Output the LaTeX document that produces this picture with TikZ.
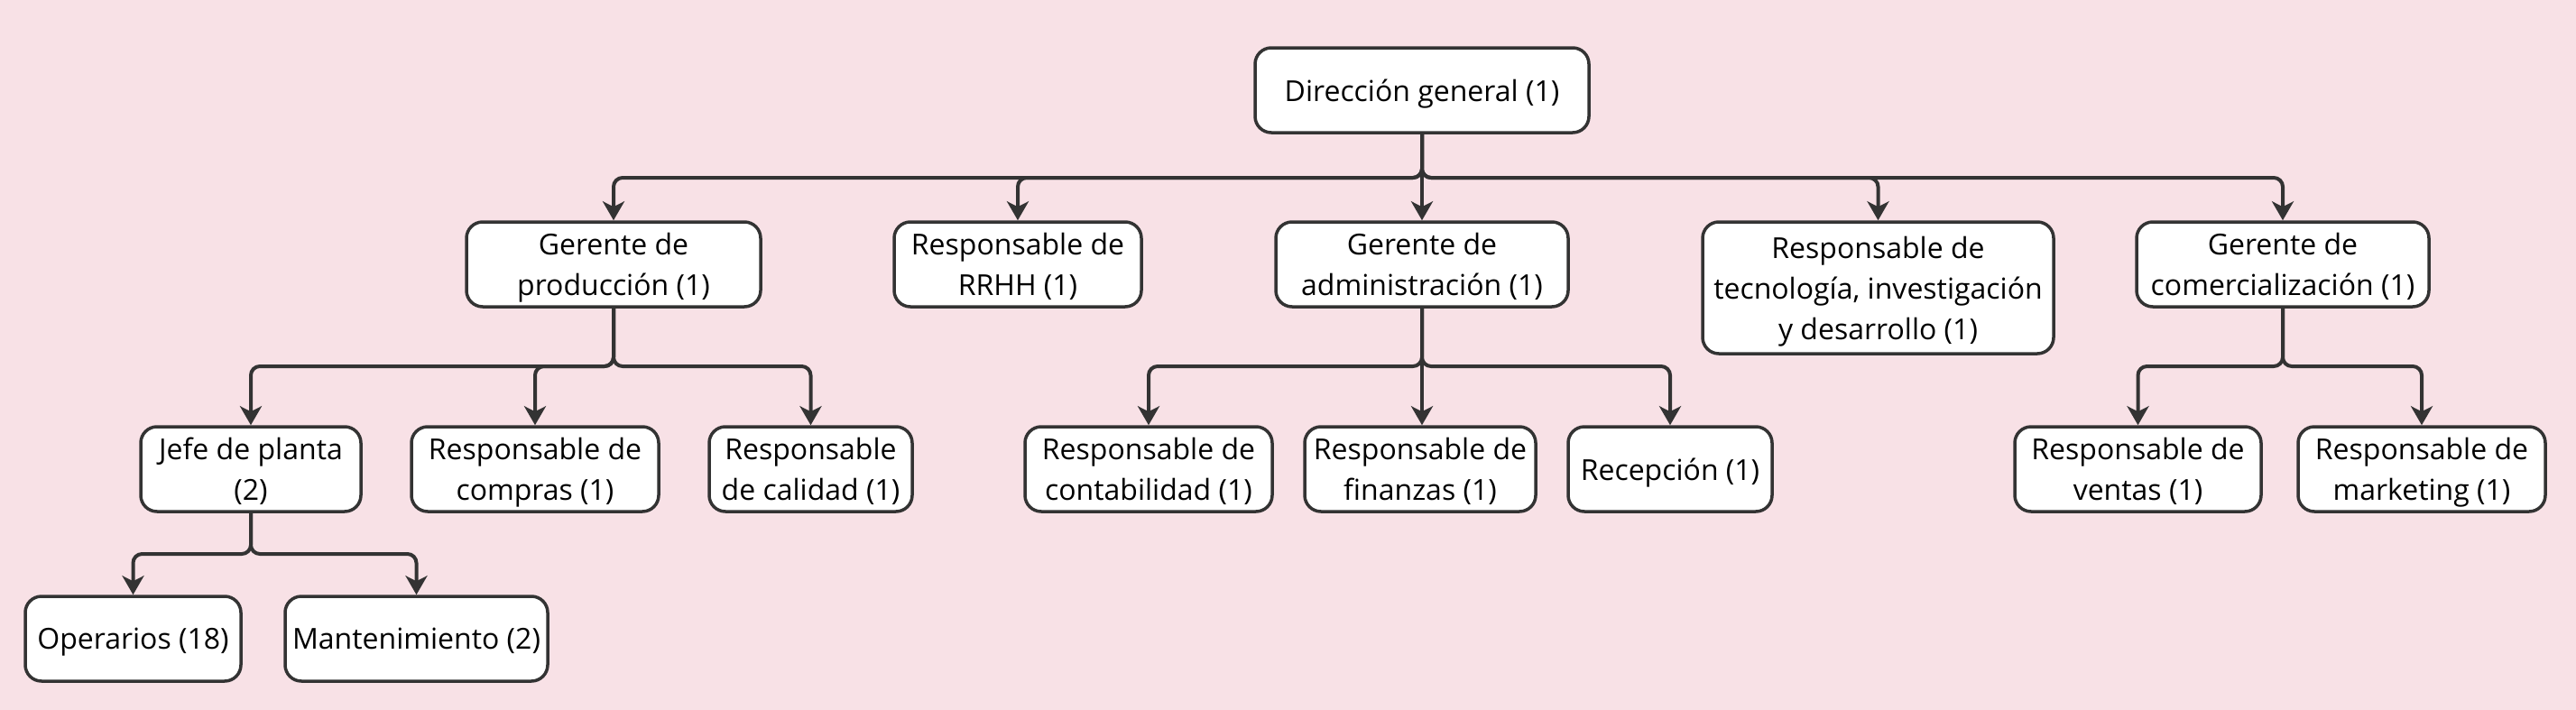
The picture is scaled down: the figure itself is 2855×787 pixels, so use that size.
\documentclass[tikz,border=0pt]{standalone}
\usepackage{fontspec}
\setmainfont{Open Sans}
\usetikzlibrary{arrows.meta}
\definecolor{bgpink}{HTML}{F8E1E6}
\definecolor{linegray}{HTML}{333333}
\tikzset{font=\fontsize{16}{22.5}\selectfont}
\tikzset{box/.style={draw=linegray,fill=white,line width=1.75pt,rounded corners=9pt,
    align=center,inner sep=0pt,minimum height=47pt,text depth=0pt}}
\tikzset{link/.style={draw=linegray,line width=2pt,rounded corners=5pt,
    -{Stealth[length=10.5pt,width=12pt,inset=3pt]}}}
\begin{document}
\begin{tikzpicture}[x=0.5pt,y=-0.5pt]
  \fill[bgpink] (0,0) rectangle (2855,787);
  \useasboundingbox (0,0) rectangle (2855,787);
  % top
  \node[box,minimum width=185pt] (dg) at (1576,100) {Dirección general (1)};
  % first level
  \node[box,minimum width=163pt] (gp) at (680,293) {Gerente de\\producción (1)};
  \node[box,minimum width=137pt] (rh) at (1128,293) {Responsable de\\RRHH (1)};
  \node[box,minimum width=162pt] (ga) at (1576,293) {Gerente de\\administración (1)};
  \node[box,minimum width=194.5pt,minimum height=73pt] (rt) at (2081.5,319)
    {Responsable de\\tecnología, investigación\\y desarrollo (1)};
  \node[box,minimum width=162pt] (gc) at (2530,293) {Gerente de\\comercialización (1)};
  % second level
  \node[box,minimum width=122pt] (jp) at (278,520) {Jefe de planta\\(2)};
  \node[box,minimum width=137pt] (rc) at (593,520) {Responsable de\\compras (1)};
  \node[box,minimum width=112.5pt] (rca) at (898.5,520) {Responsable\\de calidad (1)};
  \node[box,minimum width=137pt] (rco) at (1273,520) {Responsable de\\contabilidad (1)};
  \node[box,minimum width=128pt] (rf) at (1574,520) {Responsable de\\finanzas (1)};
  \node[box,minimum width=113pt] (rec) at (1851,520) {Recepción (1)};
  \node[box,minimum width=136.5pt] (rv) at (2369.5,520) {Responsable de\\ventas (1)};
  \node[box,minimum width=137pt] (rm) at (2684,520) {Responsable de\\marketing (1)};
  % third level
  \node[box,minimum width=119.5pt] (op) at (147.5,708) {Operarios (18)};
  \node[box,minimum width=145.5pt] (mt) at (461.5,708) {Mantenimiento (2)};
  % buses
  \coordinate (b1) at (0,197);
  \coordinate (b2) at (0,406);
  \coordinate (b3) at (0,614);
  \foreach \c in {gp,rh,rt,gc}{
    \draw[link] (dg.south) -- (dg.south |- b1) -| (\c.north);
  }
  \draw[link] (dg.south) -- (ga.north);
  \foreach \c in {jp,rc,rca}{
    \draw[link] (gp.south) -- (gp.south |- b2) -| (\c.north);
  }
  \foreach \c in {rco,rec}{
    \draw[link] (ga.south) -- (ga.south |- b2) -| (\c.north);
  }
  \draw[link] (ga.south) -- (ga.south |- rf.north);
  \foreach \c in {rv,rm}{
    \draw[link] (gc.south) -- (gc.south |- b2) -| (\c.north);
  }
  \foreach \c in {op,mt}{
    \draw[link] (jp.south) -- (jp.south |- b3) -| (\c.north);
  }
\end{tikzpicture}
\end{document}
